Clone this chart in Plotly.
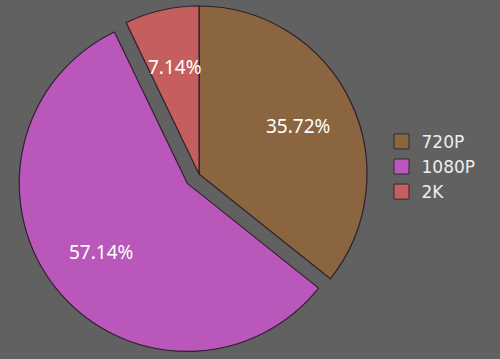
import math
import plotly.graph_objects as go

# ---- data ----
labels = ["720P", "1080P", "2K"]
values = [35.72, 57.14, 7.14]
pulled = [False, True, False]

# ---- style ----
colors = ["#8a6540", "#b957ba", "#c45f5e"]
bg = "#616161"
W, H = 500, 359
CX, CY, R = 199, 174, 168     # pie center / radius in px (screen coords)
PULL_PX = 15
LABEL_R = 0.655               # label distance as fraction of radius
FONT = "Noto Sans"

total = sum(values)

# slice geometry derived from the data (clockwise from 12 o'clock)
mids = []
cum = 0
for v in values:
    mids.append((cum + v / 2) / total * 2 * math.pi)
    cum += v
sdx = sdy = 0
for m, p in zip(mids, pulled):
    if p:
        sdx = PULL_PX * math.sin(m)
        sdy = -PULL_PX * math.cos(m)   # screen-down positive


def domain(cx, cy):
    return dict(x=[max(0, (cx - R) / W), min(1, (cx + R) / W)],
                y=[max(0, 1 - (cy + R) / H), min(1, 1 - (cy - R) / H)])


transparent = "rgba(0,0,0,0)"
line_col = "rgba(40,25,40,0.9)"

fig = go.Figure()
# static slices
fig.add_trace(go.Pie(
    labels=labels, values=values, sort=False, direction="clockwise", rotation=0,
    marker=dict(colors=[transparent if p else c for c, p in zip(colors, pulled)],
                line=dict(color=line_col, width=[0 if p else 1.2 for p in pulled])),
    textinfo="none",
    domain=domain(CX, CY), showlegend=False, hoverinfo="skip",
))
# pulled slice
fig.add_trace(go.Pie(
    labels=labels, values=values, sort=False, direction="clockwise", rotation=0,
    marker=dict(colors=[c if p else transparent for c, p in zip(colors, pulled)],
                line=dict(color=line_col, width=[1.2 if p else 0 for p in pulled])),
    textinfo="none",
    domain=domain(CX + sdx, CY + sdy), showlegend=False, hoverinfo="skip",
))
# slice labels
for v, m, p in zip(values, mids, pulled):
    cx = CX + (sdx if p else 0)
    cy = CY + (sdy if p else 0)
    px = cx + LABEL_R * R * math.sin(m)
    py = cy - LABEL_R * R * math.cos(m)
    fig.add_annotation(x=px / W, y=1 - py / H, xref="paper", yref="paper",
                       xanchor="center", yanchor="middle",
                       text=f"{v:.2f}%", showarrow=False,
                       font=dict(family=FONT, size=19, color="white"))
# legend entries
for lab, c in zip(labels, colors):
    fig.add_trace(go.Scatter(
        x=[None], y=[None], mode="markers", name=lab,
        marker=dict(symbol="square", size=15, color=c,
                    line=dict(color="rgba(40,40,40,0.9)", width=1)),
    ))

fig.update_layout(
    width=W, height=H, margin=dict(l=0, r=0, t=0, b=0),
    paper_bgcolor=bg, plot_bgcolor=bg,
    xaxis=dict(visible=False), yaxis=dict(visible=False),
    legend=dict(x=0.763, y=0.655, xanchor="left", yanchor="top",
                font=dict(family="DejaVu Sans", size=17, color="#eeeeee"),
                bgcolor="rgba(0,0,0,0)", tracegroupgap=0, itemwidth=30),
)

fig.write_html("out.html")
